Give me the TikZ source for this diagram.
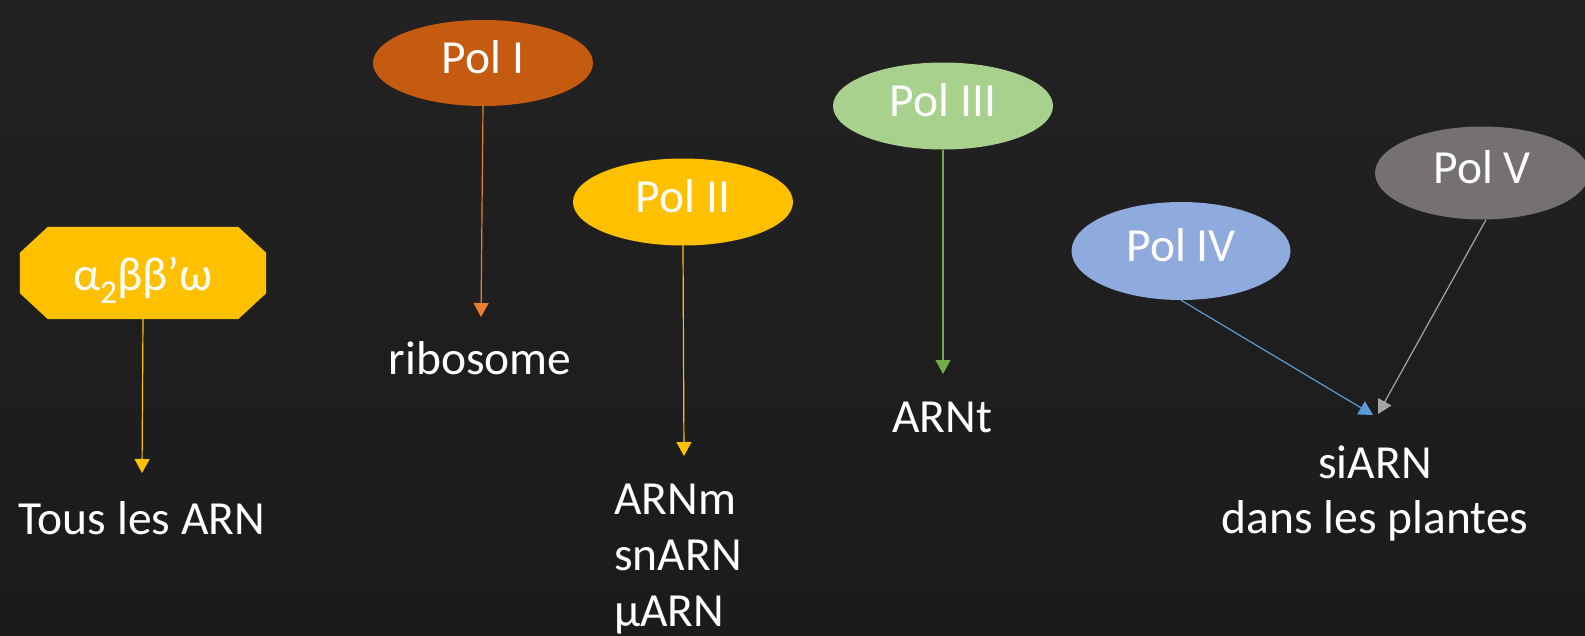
\documentclass[tikz,border=0pt]{standalone}
\usepackage{fontspec}
\setmainfont{Carlito}
\usetikzlibrary{shapes.geometric,arrows.meta}

\definecolor{bgtop}{HTML}{222222}
\definecolor{bgmid}{HTML}{262626}
\definecolor{bgbot}{HTML}{1B1B1B}
\definecolor{polone}{HTML}{C55A11}
\definecolor{poltwo}{HTML}{FFC000}
\definecolor{polthree}{HTML}{A9D18E}
\definecolor{polfour}{HTML}{8FAADC}
\definecolor{polfive}{HTML}{767171}
\definecolor{arrone}{HTML}{ED7D31}
\definecolor{arrtwo}{HTML}{FFC000}
\definecolor{arrthree}{HTML}{70AD47}
\definecolor{arrfour}{HTML}{5B9BD5}
\definecolor{arrfive}{HTML}{A5A5A5}

\tikzset{
  bigtext/.style={font=\fontsize{47.5}{57}\selectfont, text=white},
  polnode/.style={ellipse, bigtext, draw=none, inner sep=0pt,
    minimum width=220pt, minimum height=86pt,
    text height=34pt, text depth=14pt},
  corebox/.style={rectangle, bigtext, draw=none,
    inner sep=0pt, minimum width=246pt, minimum height=92pt,
    text height=40pt, text depth=6pt},
  label/.style={bigtext, inner sep=0pt, anchor=base},
  linklabel/.style={bigtext, inner sep=0pt, anchor=base west},
  link/.style={line width=1.2pt, -{Triangle[width=15pt,length=14pt]}},
}

\begin{document}
\begin{tikzpicture}[x=1pt,y=-1pt]
  \useasboundingbox (0,0) rectangle (1585,635);
  \clip (0,0) rectangle (1585,635);
  \shade[top color=bgtop, middle color=bgmid, bottom color=bgbot]
    (0,0) rectangle (1585,635);

  % core enzyme of the bacterial polymerase: octagon with cut corners
  \node[corebox] (core) at (143,273) {};
  \fill[poltwo]
    ([xshift=28pt]core.north west) -- ([xshift=-28pt]core.north east)
    -- ([yshift=-26pt]core.north east) -- ([yshift=26pt]core.south east)
    -- ([xshift=-28pt]core.south east) -- ([xshift=28pt]core.south west)
    -- ([yshift=26pt]core.south west) -- ([yshift=-26pt]core.north west)
    -- cycle;
  \node[corebox] (coretext) at (core.center) {α\textsubscript{2}ββ’ω};
  \coordinate (coreEnd) at (142,473);
  \node[label] (tous) at (142,534) {Tous les ARN};
  \draw[link, draw=arrtwo] (core.south) -- (coreEnd);

  % Pol I
  \node[polnode, fill=polone] (pol1) at (483,63) {Pol I};
  \coordinate (pol1End) at (481,317);
  \node[label] (ribo) at (480,374) {ribosome};
  \draw[link, draw=arrone] (pol1.south) -- (pol1End);

  % Pol II
  \node[polnode, fill=poltwo, minimum height=87pt] (pol2) at (683,202) {Pol II};
  \coordinate (pol2End) at (684,456);
  \node[linklabel] (arnm) at (614,514) {ARNm};
  \node[linklabel] (snarn) at (614,570) {snARN};
  \node[linklabel] (muarn) at (614,626) {µARN};
  \draw[link, draw=arrtwo] (pol2.south) -- (pol2End);

  % Pol III
  \node[polnode, fill=polthree, minimum height=87pt] (pol3) at (943,106) {Pol III};
  \coordinate (pol3End) at (943,374);
  \node[label] (arnt) at (942,432) {ARNt};
  \draw[link, draw=arrthree] (pol3.south) -- (pol3End);

  % Pol IV and Pol V (plants)
  \node[polnode, fill=polfour, minimum width=219pt, minimum height=98pt] (pol4) at (1181,251) {Pol IV};
  \node[polnode, fill=polfive, minimum width=214pt, minimum height=93pt] (pol5) at (1482,173) {Pol V};
  \coordinate (pol4End) at (1373,415);
  \coordinate (pol5End) at (1378,414);
  \node[label] (siarn) at (1375,478) {siARN};
  \node[label] (plantes) at (1375,533) {dans les plantes};
  \draw[link, draw=arrfour] (pol4.south) -- (pol4End);
  \draw[link, draw=arrfive] ([xshift=4pt]pol5.south) -- (pol5End);
\end{tikzpicture}
\end{document}
